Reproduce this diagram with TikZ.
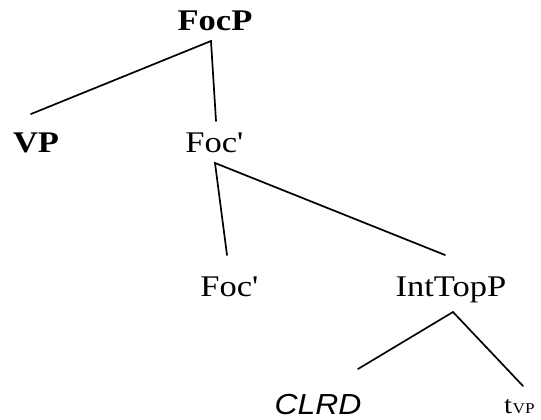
\documentclass[tikz,border=0pt]{standalone}
\usepackage{fontspec}
\setmainfont{Liberation Serif}[FakeStretch=1.15]
\newfontfamily\clrdfont{Liberation Sans}[FakeStretch=1.1]
\begin{document}
\begin{tikzpicture}[x=1pt,y=-1pt,
  lbl/.style={inner sep=0pt,anchor=base,font=\fontsize{30}{36}\selectfont},
  cat/.style={lbl,font=\fontsize{30}{36}\selectfont\bfseries},
  branch/.style={line width=1.7pt,line cap=round,line join=miter}]
\useasboundingbox[fill=white] (0,0) rectangle (541,420);

% category labels
\node[cat] (focp) at (215,31) {FocP};
\node[cat] (vp) at (36,152) {VP};
\node[lbl] (focbar) at (214,152) {Foc\textquotesingle};
\node[lbl] (foc) at (229,296) {Foc\textquotesingle};
\node[lbl] (inttop) at (451,296) {IntTopP};
\node[lbl,font=\fontsize{29}{34}\clrdfont\itshape] (clrd) at (318,414) {CLRD};
\node[lbl,anchor=base west,font=\fontsize{25}{30}\selectfont] (trace) at (504,413)
  {t\hspace{0.5pt}{\fontsize{15}{18}\selectfont VP}};

% branching points and branch ends
\coordinate (focp-a) at (211,41);
\coordinate (vp-e) at (31,114);
\coordinate (focbar-e) at (216,121);
\coordinate (focbar-a) at (215,163);
\coordinate (foc-e) at (227,255);
\coordinate (inttop-e) at (445,255);
\coordinate (inttop-a) at (453,312);
\coordinate (clrd-e) at (358,369);
\coordinate (trace-e) at (523,386);

% branches
\draw[branch] (vp-e) -- (focp-a) -- (focbar-e);
\draw[branch] (foc-e) -- (focbar-a) -- (inttop-e);
\draw[branch] (clrd-e) -- (inttop-a) -- (trace-e);
\end{tikzpicture}
\end{document}
